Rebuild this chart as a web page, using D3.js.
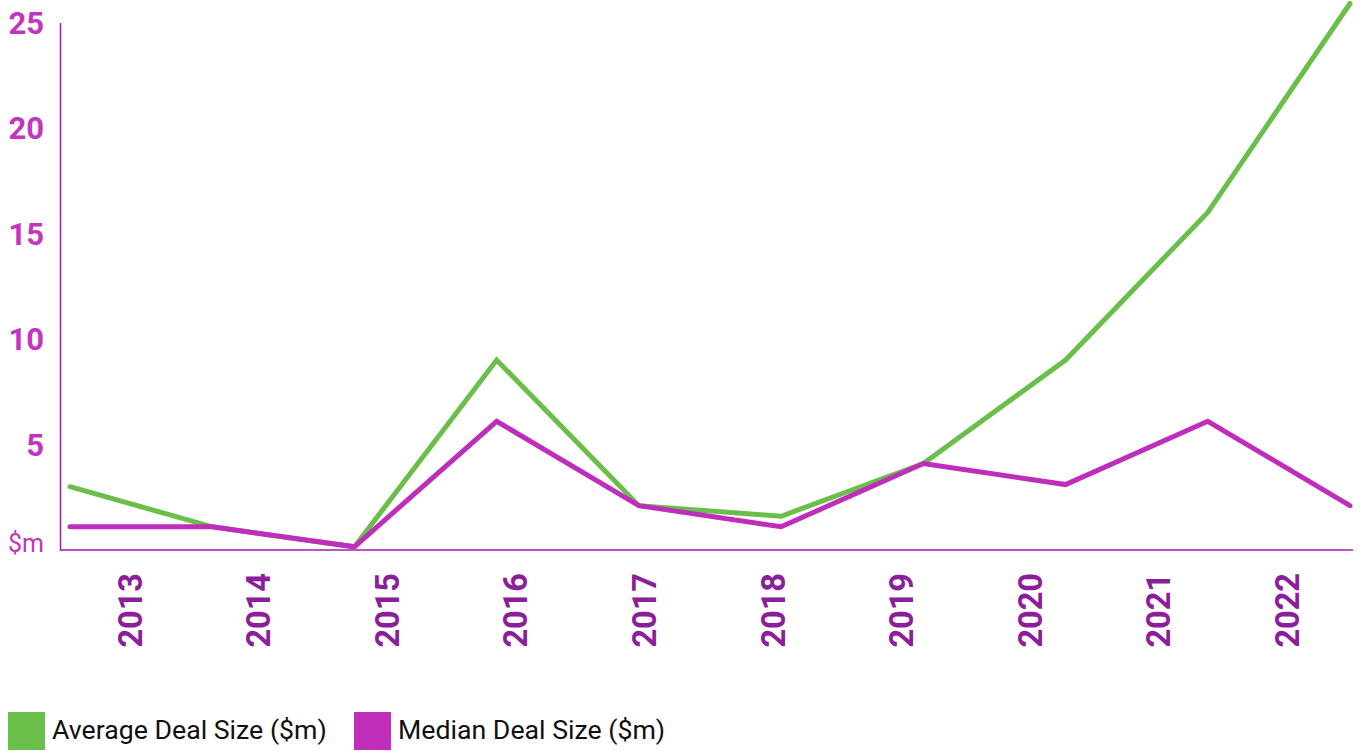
<!DOCTYPE html>
<html>
<head>
<meta charset="utf-8">
<script src="https://cdn.jsdelivr.net/npm/d3@7"></script>
<style>
  body { margin: 0; background: #fff; }
  svg { display: block; font-family: Roboto, sans-serif; }
</style>
</head>
<body>
<div id="chart"></div>
<script>
const years = ["2013", "2014", "2015", "2016", "2017", "2018", "2019", "2020", "2021", "2022"];
const averageDeal = [3, 1.1, 0.15, 9, 2.1, 1.6, 4.1, 9, 16, 25.9];
const medianDeal = [1.1, 1.1, 0.15, 6.1, 2.1, 1.1, 4.1, 3.1, 6.1, 2.1];
const yTicks = [0, 5, 10, 15, 20, 25];
const seriesNames = ["Average Deal Size ($m)", "Median Deal Size ($m)"];

const width = 1364, height = 751;
const green = "#6abf4b", magenta = "#bf2dbb";

const svg = d3.select("#chart").append("svg")
  .attr("width", width)
  .attr("height", height);

const y = d3.scaleLinear().domain([0, 25]).range([550, 22.5]);
const xLine = d3.scalePoint().domain(years).range([70, 1350]);
const xBand = d3.scaleBand().domain(years).range([66, 1352]);

// y axis
const yAxis = svg.append("g")
  .attr("transform", "translate(60,0)")
  .call(d3.axisLeft(y).tickValues(yTicks).tickSize(0).tickPadding(16)
    .tickFormat(d => d === 0 ? "$m" : d))
  .attr("font-family", "Roboto, sans-serif");
yAxis.select(".domain").attr("stroke", "#a51db5").attr("stroke-width", 1.5);
yAxis.selectAll("text")
  .attr("fill", "#c235be")
  .attr("font-size", 31)
  .attr("font-weight", 700)
  .attr("dy", "0.35em");
yAxis.selectAll(".tick").filter(d => d === 0).select("text")
  .attr("font-size", 25)
  .attr("font-weight", 400)
  .attr("dy", "0.05em");

// x axis
const xAxis = svg.append("g")
  .attr("transform", "translate(0,550)")
  .call(d3.axisBottom(xBand).tickSize(0).tickSizeOuter(0))
  .attr("font-family", "Roboto, sans-serif");
xAxis.select(".domain").attr("stroke", "#a51db5").attr("stroke-width", 1.5)
  .attr("d", "M60,0H1353");
xAxis.selectAll("text")
  .attr("fill", "#8c1d9b")
  .attr("font-size", 32.5)
  .attr("font-weight", 700)
  .attr("text-anchor", "end")
  .attr("transform", "rotate(-90)")
  .attr("x", -23)
  .attr("y", 0)
  .attr("dy", "0.35em");

// lines
const line = d3.line()
  .x((d, i) => xLine(years[i]))
  .y(d => y(d));

svg.append("path")
  .datum(averageDeal)
  .attr("fill", "none")
  .attr("stroke", green)
  .attr("stroke-width", 5)
  .attr("stroke-linecap", "round")
  .attr("d", line);

svg.append("path")
  .datum(medianDeal)
  .attr("fill", "none")
  .attr("stroke", magenta)
  .attr("stroke-width", 5)
  .attr("stroke-linecap", "round")
  .attr("d", line);

// legend
const legendX = [8, 354];
const legend = svg.selectAll(".legend")
  .data(seriesNames)
  .join("g")
  .attr("class", "legend")
  .attr("transform", (d, i) => "translate(" + legendX[i] + ",712)");

legend.append("rect")
  .attr("width", 37)
  .attr("height", 38)
  .attr("fill", (d, i) => i === 0 ? green : magenta);

legend.append("text")
  .attr("x", 44)
  .attr("y", 27)
  .attr("font-size", 26.7)
  .attr("fill", "#111")
  .text(d => d);
</script>
</body>
</html>
